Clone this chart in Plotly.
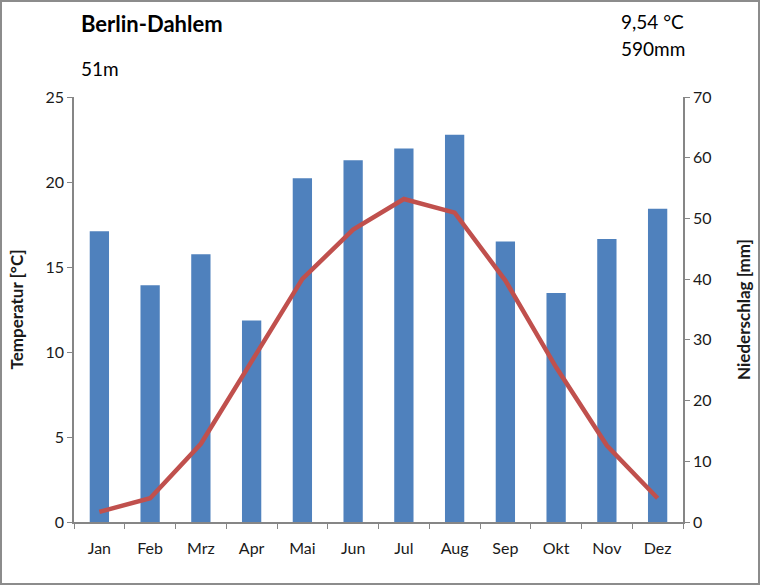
import plotly.graph_objects as go

months = ["Jan", "Feb", "Mrz", "Apr", "Mai", "Jun", "Jul", "Aug", "Sep", "Okt", "Nov", "Dez"]
precip_mm = [47.9, 39.0, 44.1, 33.2, 56.6, 59.6, 61.5, 63.8, 46.2, 37.7, 46.6, 51.6]
temp_c = [0.6, 1.4, 4.6, 9.5, 14.3, 17.2, 19.0, 18.2, 14.2, 9.1, 4.5, 1.4]

station = "Berlin-Dahlem"
elevation = "51m"
mean_temp = "9,54 °C"
total_precip = "590mm"

FONT = "Lato"
AX = "#868686"
TXT = "#1a1a1a"

fig = go.Figure()
fig.add_trace(go.Bar(x=months, y=precip_mm, marker=dict(color="#4F81BD", line=dict(width=0)),
                     yaxis="y", showlegend=False))
fig.add_trace(go.Scatter(x=months, y=temp_c, mode="lines", line=dict(color="#C0504D", width=4.5),
                         yaxis="y2", showlegend=False))

L, R, T, B = 74, 77, 97, 63
W, H = 760, 585
pw, ph = W - L - R, H - T - B

fig.update_layout(
    width=W, height=H,
    margin=dict(l=L, r=R, t=T, b=B, autoexpand=False),
    paper_bgcolor="white", plot_bgcolor="white",
    bargap=0.62,
    font=dict(family=FONT, size=16, color=TXT),
    xaxis=dict(showline=True, linecolor=AX, linewidth=1.5, ticks="outside", tickson="boundaries",
               ticklen=5, tickcolor=AX, showgrid=False, tickfont=dict(size=16, color=TXT),
               ticklabelstandoff=11, range=[-0.5, 11.5], automargin=False),
    yaxis=dict(side="right", range=[0, 70], dtick=10, showline=True, linecolor=AX, linewidth=1.5,
               ticks="outside", ticklen=5, tickcolor=AX, showgrid=False, zeroline=False,
               tickfont=dict(size=16, color=TXT), automargin=False,
               title=dict(text="<b>Niederschlag [mm]</b>", font=dict(size=17, color=TXT), standoff=28)),
    yaxis2=dict(side="left", overlaying="y", range=[0, 25], dtick=5, showline=True, linecolor=AX,
                linewidth=1.5, ticks="outside", ticklen=5, tickcolor=AX, showgrid=False, zeroline=False,
                tickfont=dict(size=16, color=TXT), automargin=False,
                title=dict(text="<b>Temperatur [°C]</b>", font=dict(size=17, color=TXT), standoff=18)),
)

def px(x):
    return (x - L) / pw

def py(y):
    return (H - B - y) / ph

fig.add_annotation(text="<b>" + station + "</b>", x=px(79), y=py(23), xref="paper", yref="paper",
                   xanchor="left", yanchor="middle", showarrow=False, font=dict(size=22, color="#000"))
fig.add_annotation(text=elevation, x=px(79), y=py(68), xref="paper", yref="paper",
                   xanchor="left", yanchor="middle", showarrow=False, font=dict(size=19, color="#000"))
fig.add_annotation(text=mean_temp, x=px(619), y=py(22), xref="paper", yref="paper",
                   xanchor="left", yanchor="middle", showarrow=False, font=dict(size=19, color="#000"))
fig.add_annotation(text=total_precip, x=px(619), y=py(48), xref="paper", yref="paper",
                   xanchor="left", yanchor="middle", showarrow=False, font=dict(size=19, color="#000"))

fig.add_shape(type="rect", xref="paper", yref="paper",
              x0=px(1), x1=px(W - 1), y0=py(H - 1), y1=py(1),
              line=dict(color="#8c8c8c", width=2), fillcolor="rgba(0,0,0,0)", layer="below")

fig.write_html("out.html")
